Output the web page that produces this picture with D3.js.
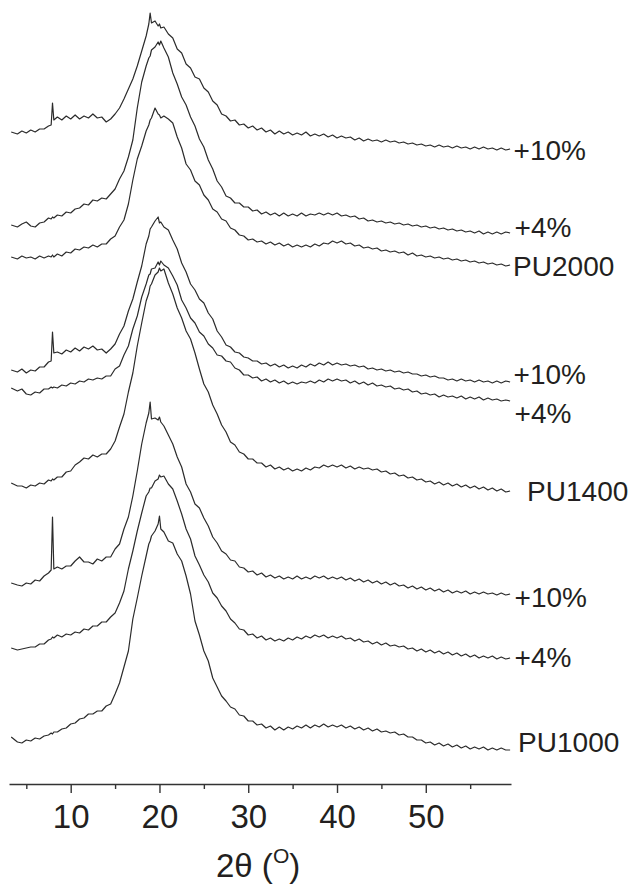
<!DOCTYPE html>
<html>
<head>
<meta charset="utf-8">
<script src="https://cdn.jsdelivr.net/npm/d3@7"></script>
<style>
  body { margin: 0; background: #fff; }
  svg { display: block; }
  text { font-family: "Liberation Sans", Arial, sans-serif; fill: #231f20; }
</style>
</head>
<body>
<svg id="chart" width="633" height="884"></svg>
<script>
// scattering angle 2θ (degrees), shared by every pattern
var twoTheta = [3.3,4,4.5,5,5.5,6,6.5,7,7.5,7.8,7.95,8.1,8.5,9,9.5,10,10.5,11,11.5,12,12.5,13,13.5,14,14.5,15,15.5,16,16.5,17,17.5,18,18.5,18.8,18.95,19.1,19.5,19.85,20,20.15,20.5,21,21.5,22,22.5,23,23.5,24,24.5,25,25.5,26,26.5,27,27.5,28,28.5,29,29.5,30,30.5,31,31.5,32,32.5,33,33.5,34,34.5,35,35.5,36,36.5,37,37.5,38,38.5,39,39.5,40,40.5,41,41.5,42,42.5,43,43.5,44,44.5,45,45.5,46,46.5,47,47.5,48,48.5,49,49.5,50,50.5,51,51.5,52,52.5,53,53.5,54,54.5,55,55.5,56,56.5,57,57.5,58,58.5,59,59.5];

// stacked intensities (a.u., offset already included)
var pu2000_10 = [652,650,653,651,654,652,655,655,658,659,
  681,664,667,664,668,665,669,665,668,666,
  670,666,667,662,665,670,676,685,695,705,
  718,733,748,760,771,761,763,758,760,756,
  757,750,746,735,731,720,716,707,705,696,
  692,683,679,670,668,663,664,659,660,656,
  658,654,656,652,654,650,653,650,652,649,
  651,649,652,648,650,648,650,647,649,646,
  648,646,647,644,646,643,645,643,644,642,
  644,642,643,641,642,640,641,639,640,638,
  639,637,639,637,638,636,638,636,637,635,
  637,635,637,635,636,634,636,634,635];

var pu2000_4 = [559,557,560,562,558,557,561,562,566,565,
  567,566,569,568,572,571,575,576,580,579,
  584,583,586,585,590,595,605,613,627,644,
  676,702,718,726,728,734,737,742,739,743,
  736,727,711,700,687,679,667,658,645,637,
  624,615,603,597,588,586,581,581,577,577,
  573,574,570,572,569,571,568,571,568,570,
  568,571,568,570,569,571,569,571,569,571,
  568,569,567,568,565,566,563,564,562,563,
  561,562,560,561,559,560,558,559,557,558,
  556,557,555,556,554,555,553,554,552,553,
  551,553,550,552,550,552,550,552,551];

var pu2000 = [527,525,528,526,527,525,528,526,528,527,
  529,527,530,528,532,531,535,534,537,536,
  539,537,540,540,545,548,557,564,580,604,
  625,638,653,659,664,666,676,670,669,666,
  668,665,661,647,636,620,614,603,599,589,
  584,575,572,565,563,556,554,549,548,544,
  545,542,543,540,542,539,541,538,540,537,
  539,537,539,537,540,538,541,540,543,541,
  543,540,541,538,539,536,537,535,536,533,
  534,532,533,531,532,529,531,528,529,527,
  528,526,527,525,526,524,525,523,524,522,
  523,521,522,520,521,519,520,518,519];

var pu1400_10 = [414,412,415,411,414,413,417,417,422,423,
  452,431,432,430,434,432,436,433,437,435,
  438,434,435,431,435,440,450,458,473,485,
  502,518,540,548,555,557,563,567,561,562,
  557,554,544,535,521,512,500,494,485,481,
  471,465,453,447,439,437,432,431,427,426,
  423,423,420,421,418,420,417,419,416,418,
  416,419,417,420,418,421,419,422,419,421,
  419,420,418,419,417,418,415,416,414,415,
  413,414,412,413,411,412,410,410,408,409,
  407,408,406,406,404,405,403,405,403,404,
  402,404,402,403,401,403,401,403,402];

var pu1400_4 = [396,393,395,390,389,392,391,395,395,397,
  396,397,396,399,398,401,400,403,402,405,
  404,406,405,408,408,415,418,429,438,455,
  468,487,500,509,510,515,516,522,519,523,
  519,516,508,499,484,476,466,461,452,448,
  440,436,429,428,423,422,416,414,409,409,
  406,407,403,405,402,404,401,403,400,402,
  400,402,401,403,401,404,402,405,403,405,
  403,404,401,403,400,402,399,401,398,399,
  397,398,395,396,394,395,392,393,390,391,
  389,390,387,389,387,388,386,388,385,387,
  385,387,384,386,384,385,383,384,383];

var pu1400 = [301,298,298,296,299,298,301,300,304,303,
  305,304,307,307,312,313,319,322,326,325,
  329,327,330,330,335,343,357,370,392,411,
  438,461,483,491,498,500,509,512,516,513,
  515,501,490,476,466,453,445,431,415,400,
  392,379,370,359,352,342,339,332,330,325,
  325,321,321,317,319,315,317,314,316,313,
  315,313,316,314,317,316,319,317,319,317,
  319,316,318,315,317,315,316,314,315,312,
  313,310,311,308,309,306,307,304,305,302,
  303,300,302,299,301,298,300,297,299,296,
  298,295,297,294,296,293,295,292,293];

var pu1000_10 = [201,199,198,201,200,204,203,208,211,214,
  267,215,217,215,218,218,223,227,222,222,
  220,225,223,227,227,235,240,255,267,288,
  313,340,361,371,382,365,366,364,367,362,
  358,349,340,327,317,300,292,280,276,266,
  258,247,241,233,230,224,223,217,216,212,
  213,209,211,207,209,206,208,205,207,205,
  208,205,207,205,208,206,208,205,207,205,
  207,204,206,203,205,202,204,201,203,200,
  202,199,201,198,199,196,198,195,197,194,
  196,193,195,192,194,191,193,191,193,190,
  192,190,192,190,191,189,191,189,190];

var pu1000_4 = [136,134,135,136,137,137,140,140,144,145,
  147,146,149,147,150,149,152,151,155,154,
  158,158,162,162,167,171,181,193,215,233,
  253,271,288,292,296,296,303,305,309,307,
  308,300,295,283,270,255,245,228,219,209,
  202,191,186,178,173,165,161,155,154,149,
  150,146,148,144,146,143,145,143,146,144,
  147,145,148,146,149,147,149,146,148,146,
  148,145,146,143,145,142,143,140,142,139,
  141,138,139,137,138,135,136,133,135,132,
  134,131,133,130,132,129,131,128,130,127,
  129,126,128,126,128,125,127,125,126];

var pu1000 = [47,42,41,44,43,46,45,48,49,51,
  50,52,52,55,56,60,61,65,66,70,
  70,73,73,78,80,90,101,117,133,165,
  186,208,228,240,243,248,253,260,268,255,
  252,243,241,230,223,208,190,163,149,133,
  123,106,97,88,83,77,75,69,68,63,
  63,59,60,56,58,54,57,54,57,55,
  58,56,59,56,59,57,60,57,59,57,
  59,56,58,55,57,54,56,53,55,52,
  53,51,52,49,50,47,47,44,44,41,
  42,39,41,38,40,37,39,36,38,35,
  37,35,37,34,36,34,36,34,34];

var sampleNames = ["+10%", "+4%", "PU2000", "+10%", "+4%", "PU1400", "+10%", "+4%", "PU1000"];
var majorTicks = [10, 20, 30, 40, 50];
var minorTicks = [5, 15, 25, 35, 45, 55];

var series = [pu2000_10, pu2000_4, pu2000, pu1400_10, pu1400_4, pu1400, pu1000_10, pu1000_4, pu1000];
series.forEach(function(s, k) {
    if (s.length !== twoTheta.length) throw new Error("series " + k + " has " + s.length + " points, expected " + twoTheta.length);
});

// label placement next to the end of each trace
var labelShift = [
    { dx: 3.5, dy: 11 }, { dx: 4.5, dy: 4 }, { dx: 3, dy: 11 },
    { dx: 3.5, dy: 2 }, { dx: 4.5, dy: 22 }, { dx: 17, dy: 10 },
    { dx: 4.5, dy: 13 }, { dx: 4.5, dy: 9 }, { dx: 8, dy: 2 }
];

var svg = d3.select("#chart");

var x = d3.scaleLinear()
    .domain([3.05, 59.6])
    .range([9, 511]);

var y = d3.scaleLinear()
    .domain([0, 784])
    .range([784, 0]);

var line = d3.line()
    .x(function(d, i) { return x(twoTheta[i]); })
    .y(function(d) { return y(d); });

svg.append("g")
    .attr("fill", "none")
    .attr("stroke", "#2b2b2b")
    .attr("stroke-width", 1.2)
    .attr("stroke-linejoin", "round")
    .selectAll("path")
    .data(series)
    .join("path")
    .attr("d", line);

svg.append("g")
    .selectAll("text")
    .data(series)
    .join("text")
    .attr("x", function(d, i) { return x(twoTheta[twoTheta.length - 1]) + labelShift[i].dx; })
    .attr("y", function(d, i) { return y(d[d.length - 1]) + labelShift[i].dy; })
    .style("font-size", "28px")
    .text(function(d, i) { return sampleNames[i]; });

// x axis: major ticks with labels, minor ticks without
var axisY = y(0);

svg.append("g")
    .attr("transform", "translate(0," + axisY + ")")
    .call(d3.axisBottom(x).tickValues(minorTicks).tickSize(5).tickFormat(""))
    .call(function(g) { g.select(".domain").remove(); })
    .call(function(g) { g.selectAll(".tick line").attr("stroke", "#333").attr("stroke-width", 1.4); });

svg.append("g")
    .attr("transform", "translate(0," + axisY + ")")
    .call(d3.axisBottom(x).tickValues(majorTicks).tickSize(9).tickSizeOuter(0).tickFormat(d3.format("d")))
    .call(function(g) { g.select(".domain").attr("stroke", "#333").attr("stroke-width", 1.6); })
    .call(function(g) { g.selectAll(".tick line").attr("stroke", "#333").attr("stroke-width", 1.4); })
    .call(function(g) {
        g.selectAll(".tick text")
            .attr("y", 44)
            .attr("dy", 0)
            .attr("fill", null)
            .style("font-size", "33px")
            .style("font-family", "'Liberation Sans', Arial, sans-serif");
    });

var title = svg.append("text")
    .attr("x", 216)
    .attr("y", 877)
    .style("font-size", "33px");
title.append("tspan").text("2θ (");
title.append("tspan").attr("dy", -14).style("font-size", "21px").text("O");
title.append("tspan").attr("dy", 14).text(")");
</script>
</body>
</html>
